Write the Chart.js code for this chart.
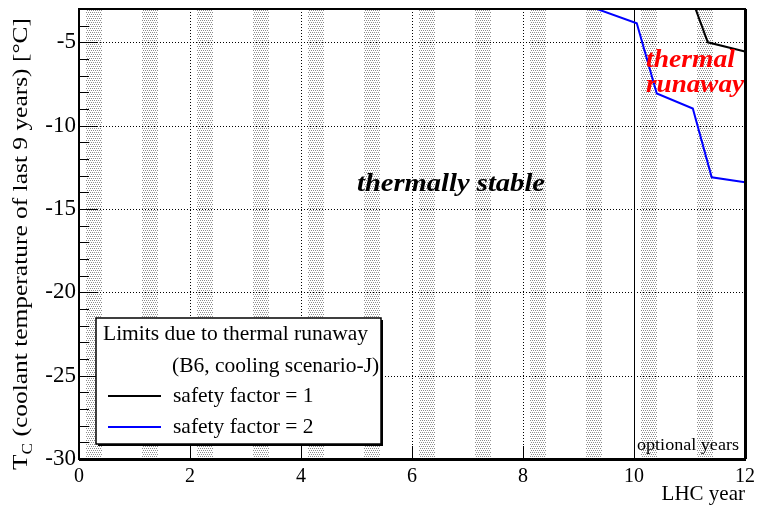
<!DOCTYPE html>
<html>
<head>
<meta charset="utf-8">
<script src="https://cdn.jsdelivr.net/npm/chart.js@4.4.1/dist/chart.umd.min.js"></script>
<style>
  html, body { margin: 0; padding: 0; background: #fff; }
</style>
</head>
<body>
<canvas id="c" width="760" height="510"></canvas>
<script>
// --- Données ---
const sf1Year = [11.0, 11.33, 12.0];
const sf1Temp = [-2.0, -5.0, -5.55];
const sf2Year = [9.0, 10.05, 10.41, 11.06, 11.40, 12.0];
const sf2Temp = [-2.6, -3.86, -8.07, -8.97, -13.1, -13.4];
const seriesLabels = ['safety factor = 1', 'safety factor = 2'];
const xTicks = [0, 2, 4, 6, 8, 10, 12];
const yTicks = [-30, -25, -20, -15, -10, -5];
// arrêts hivernaux (début / fin dans chaque année)
const shutdownYears = [0, 1, 2, 3, 4, 5, 6, 7, 8, 9, 10, 11];
const shutdownFrom = 0.13;
const shutdownTo = 0.42;
const optionalFrom = 10;

const SERIF = '"Liberation Serif", "Times New Roman", serif';
const pts = (xs, ys) => xs.map((x, i) => ({ x, y: ys[i] }));

// texte étiré horizontalement pour occuper une largeur donnée
function fitText(ctx, text, x, y, width) {
  const w = ctx.measureText(text).width;
  ctx.save();
  ctx.translate(x, y);
  ctx.scale(width / w, 1);
  ctx.textAlign = 'left';
  ctx.fillText(text, 0, 0);
  ctx.restore();
}

// --- Motif pointillé des bandes ---
function stipple(ctx) {
  const p = document.createElement('canvas');
  p.width = 4; p.height = 4;
  const c = p.getContext('2d');
  c.fillStyle = '#fff'; c.fillRect(0, 0, 4, 4);
  c.fillStyle = '#8c8c8c';
  [[0, 0], [2, 0], [1, 2], [3, 2]].forEach(([i, j]) => c.fillRect(i, j, 1, 1));
  return ctx.createPattern(p, 'repeat');
}

const decor = {
  id: 'decor',
  beforeDraw(chart) {
    const { ctx, chartArea: a, scales: { x, y } } = chart;
    ctx.save();
    ctx.beginPath(); ctx.rect(a.left, a.top, a.right - a.left, a.bottom - a.top); ctx.clip();
    ctx.fillStyle = stipple(ctx);
    shutdownYears.forEach(yr => {
      const x0 = Math.round(x.getPixelForValue(yr + shutdownFrom));
      const x1 = Math.round(x.getPixelForValue(yr + shutdownTo));
      ctx.fillRect(x0, a.top, x1 - x0, a.bottom - a.top);
    });
    // grille pointillée
    ctx.strokeStyle = '#000'; ctx.lineWidth = 1; ctx.setLineDash([1, 2]);
    xTicks.forEach(v => {
      if (v === x.min || v === x.max) return;
      const px = Math.round(x.getPixelForValue(v)) + 0.5;
      ctx.beginPath(); ctx.moveTo(px, a.top); ctx.lineTo(px, a.bottom); ctx.stroke();
    });
    yTicks.forEach(v => {
      if (v === y.min || v === y.max) return;
      const py = Math.round(y.getPixelForValue(v)) + 0.5;
      ctx.beginPath(); ctx.moveTo(a.left, py); ctx.lineTo(a.right, py); ctx.stroke();
    });
    ctx.setLineDash([]);
    // limite des années optionnelles
    const ox = Math.round(x.getPixelForValue(optionalFrom)) + 0.5;
    ctx.beginPath(); ctx.moveTo(ox, a.top); ctx.lineTo(ox, a.bottom); ctx.stroke();
    ctx.restore();
  },
  afterDatasetsDraw(chart) {
    const { ctx, chartArea: a, scales: { x, y } } = chart;
    ctx.save();
    ctx.strokeStyle = '#000'; ctx.lineWidth = 1;
    // graduations y (majeures + mineures)
    for (let v = y.min + 1; v < y.max; v++) {
      const py = Math.round(y.getPixelForValue(v)) + 0.5;
      const len = v % 5 === 0 ? 18 : 10;
      ctx.beginPath(); ctx.moveTo(a.left, py); ctx.lineTo(a.left + len, py); ctx.stroke();
    }
    xTicks.forEach(v => {
      const px = Math.round(x.getPixelForValue(v)) + 0.5;
      ctx.beginPath(); ctx.moveTo(px, a.bottom); ctx.lineTo(px, a.bottom - 13); ctx.stroke();
    });
    // cadre
    ctx.lineWidth = 2;
    ctx.strokeRect(a.left, a.top, a.right - a.left, a.bottom - a.top);
    ctx.lineWidth = 3;
    ctx.beginPath(); ctx.moveTo(a.left, a.bottom + 0.5); ctx.lineTo(a.right + 1, a.bottom + 0.5); ctx.stroke();
    ctx.beginPath(); ctx.moveTo(a.right + 0.5, a.top); ctx.lineTo(a.right + 0.5, a.bottom); ctx.stroke();
    ctx.restore();
  },
  afterDraw(chart) {
    const { ctx, chartArea: a } = chart;
    ctx.save();
    ctx.textBaseline = 'alphabetic';

    // textes dans le graphe
    ctx.fillStyle = '#000';
    ctx.font = `italic bold 25px ${SERIF}`;
    fitText(ctx, 'thermally stable', 357, 191, 188);
    ctx.fillStyle = '#ff0000';
    ctx.font = `italic bold 25px ${SERIF}`;
    fitText(ctx, 'thermal', 646, 67, 89);
    fitText(ctx, 'runaway', 646, 92, 98);
    ctx.fillStyle = '#000';
    ctx.font = `16px ${SERIF}`;
    fitText(ctx, 'optional years', 637, 450, 102);

    // titres des axes
    ctx.font = `21px ${SERIF}`;
    ctx.textAlign = 'right';
    ctx.fillText('LHC year', a.right, 500);
    ctx.save();
    ctx.translate(27, 470);
    ctx.rotate(-Math.PI / 2);
    ctx.textAlign = 'left';
    const big = `22px ${SERIF}`, small = `15px ${SERIF}`;
    const rest = ' (coolant temperature of last 9 years) [\u00B0C]';
    ctx.font = big; const wT = ctx.measureText('T').width, wR = ctx.measureText(rest).width;
    ctx.font = small; const wC = ctx.measureText('C').width;
    ctx.scale(452 / (wT + wC + wR), 1);
    ctx.font = big; ctx.fillText('T', 0, 0);
    ctx.font = small; ctx.fillText('C', wT, 5);
    ctx.font = big; ctx.fillText(rest, wT + wC, 0);
    ctx.restore();

    // légende
    const lx = 96, ly = 318, lw = 285, lh = 126;
    ctx.fillStyle = '#000';
    ctx.fillRect(lx + 2, ly + 2, lw, lh);
    ctx.fillStyle = '#fff';
    ctx.fillRect(lx, ly, lw, lh);
    ctx.strokeStyle = '#000'; ctx.lineWidth = 1.5;
    ctx.strokeRect(lx, ly, lw, lh);
    ctx.fillStyle = '#000';
    ctx.font = `21.5px ${SERIF}`;
    ctx.textAlign = 'left';
    ctx.fillText('Limits due to thermal runaway', 103, 340);
    ctx.fillText('(B6, cooling scenario-J)', 172, 372);
    chart.data.datasets.forEach((ds, i) => {
      const by = 402 + i * 31;
      ctx.strokeStyle = ds.borderColor; ctx.lineWidth = 2;
      ctx.beginPath(); ctx.moveTo(108, by - 6); ctx.lineTo(161, by - 6); ctx.stroke();
      ctx.fillText(ds.label, 173, by);
    });
    ctx.restore();
  }
};

new Chart(document.getElementById('c'), {
  type: 'scatter',
  data: {
    datasets: [
      { label: seriesLabels[0], data: pts(sf1Year, sf1Temp), showLine: true,
        borderColor: '#000000', borderWidth: 2, pointRadius: 0, tension: 0 },
      { label: seriesLabels[1], data: pts(sf2Year, sf2Temp), showLine: true,
        borderColor: '#0000ff', borderWidth: 2, pointRadius: 0, tension: 0 }
    ]
  },
  options: {
    responsive: false,
    animation: false,
    devicePixelRatio: 1,
    layout: { padding: { left: 0, top: 9, right: 15, bottom: 0 } },
    plugins: { legend: { display: false }, tooltip: { enabled: false } },
    scales: {
      x: {
        type: 'linear', min: 0, max: 12,
        afterBuildTicks: s => { s.ticks = xTicks.map(v => ({ value: v })); },
        afterFit: s => { s.height = 51; s.paddingLeft = 0; s.paddingRight = 0; },
        grid: { display: false, drawTicks: false },
        border: { display: false },
        ticks: { color: '#000', padding: 6, maxRotation: 0, font: { family: SERIF, size: 20 } }
      },
      y: {
        type: 'linear', min: -30, max: -3,
        afterBuildTicks: s => { s.ticks = yTicks.map(v => ({ value: v })); },
        afterFit: s => { s.width = 79; s.paddingTop = 0; s.paddingBottom = 0; },
        grid: { display: false, drawTicks: false },
        border: { display: false },
        ticks: { color: '#000', padding: 3, font: { family: SERIF, size: 23 } }
      }
    }
  },
  plugins: [decor]
});
</script>
</body>
</html>
